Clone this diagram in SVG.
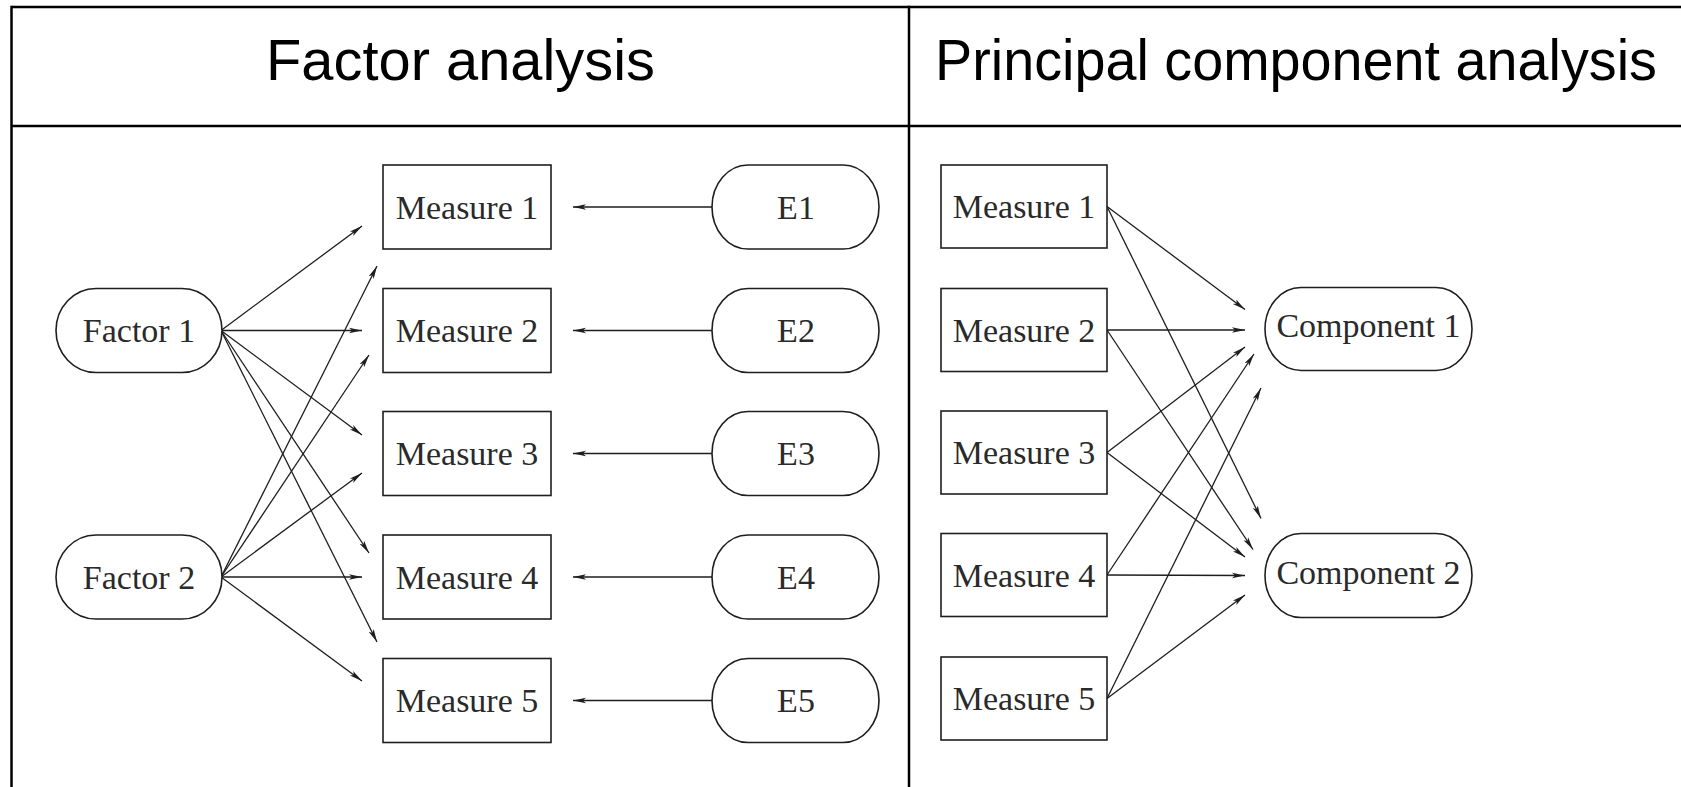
<svg xmlns="http://www.w3.org/2000/svg" width="1681" height="787" viewBox="0 0 1681 787">
<style>
.grid{stroke:#000;stroke-width:2.5;fill:none}
.hdr{font-family:"Liberation Sans",Arial,sans-serif;font-size:58px;fill:#000}
.node{fill:#fff;stroke:#1e1e1e;stroke-width:1.6}
.lbl{font-family:"Liberation Serif","DejaVu Serif",serif;font-size:34px;fill:#2a2a2a;text-anchor:middle}
.edge{stroke:#1e1e1e;stroke-width:1.3;fill:none;marker-end:url(#ah)}
</style>
<defs>
<marker id="ah" viewBox="0 0 13 8" refX="13" refY="4" markerWidth="13" markerHeight="8" markerUnits="userSpaceOnUse" orient="auto">
<path d="M0,1.2 L13,4 L0,6.8 L3,4 Z" fill="#1e1e1e"/>
</marker>
</defs>
<rect width="1681" height="787" fill="#fff"/>
<g id="table">
<line class="grid" x1="11.5" y1="7" x2="1681" y2="7"/>
<line class="grid" x1="11.5" y1="126" x2="1681" y2="126"/>
<line class="grid" x1="11.5" y1="5.75" x2="11.5" y2="787"/>
<line class="grid" x1="909" y1="5.75" x2="909" y2="787"/>
<text class="hdr" x="266" y="80" textLength="389" lengthAdjust="spacingAndGlyphs">Factor analysis</text>
<text class="hdr" x="935" y="80" textLength="722" lengthAdjust="spacingAndGlyphs">Principal component analysis</text>
</g>
<g id="connectors">
<line class="edge" x1="712" y1="207" x2="573" y2="207"/>
<line class="edge" x1="712" y1="330.5" x2="573" y2="330.5"/>
<line class="edge" x1="712" y1="453.5" x2="573" y2="453.5"/>
<line class="edge" x1="712" y1="577" x2="573" y2="577"/>
<line class="edge" x1="712" y1="700.5" x2="573" y2="700.5"/>
<line class="edge" x1="221" y1="330.5" x2="362" y2="226"/>
<line class="edge" x1="221" y1="330.5" x2="362" y2="330.5"/>
<line class="edge" x1="221" y1="330.5" x2="362" y2="435"/>
<line class="edge" x1="221" y1="330.5" x2="369" y2="553"/>
<line class="edge" x1="221" y1="330.5" x2="377" y2="642"/>
<line class="edge" x1="221" y1="577" x2="377" y2="266"/>
<line class="edge" x1="221" y1="577" x2="369" y2="355"/>
<line class="edge" x1="221" y1="577" x2="362" y2="473"/>
<line class="edge" x1="221" y1="577" x2="362" y2="577"/>
<line class="edge" x1="221" y1="577" x2="362" y2="681"/>
<line class="edge" x1="1107" y1="206.5" x2="1245" y2="309.5"/>
<line class="edge" x1="1107" y1="206.5" x2="1261" y2="518.5"/>
<line class="edge" x1="1107" y1="330" x2="1245" y2="330"/>
<line class="edge" x1="1107" y1="330" x2="1253" y2="549.5"/>
<line class="edge" x1="1107" y1="452.5" x2="1245" y2="347"/>
<line class="edge" x1="1107" y1="452.5" x2="1245" y2="557"/>
<line class="edge" x1="1107" y1="575" x2="1254" y2="354"/>
<line class="edge" x1="1107" y1="575" x2="1245" y2="575.5"/>
<line class="edge" x1="1107" y1="698.5" x2="1261" y2="388"/>
<line class="edge" x1="1107" y1="698.5" x2="1245" y2="595"/>
</g>
<g id="fa-factor1"><rect class="node" x="56" y="288.5" width="166" height="84" rx="40" ry="42"/><text class="lbl" x="139" y="342">Factor 1</text></g>
<g id="fa-factor2"><rect class="node" x="56" y="535" width="166" height="84" rx="40" ry="42"/><text class="lbl" x="139" y="588.5">Factor 2</text></g>
<g id="fa-measure1"><rect class="node" x="383" y="165" width="168" height="84"/><text class="lbl" x="467" y="218.5">Measure 1</text></g>
<g id="fa-measure2"><rect class="node" x="383" y="288.5" width="168" height="84"/><text class="lbl" x="467" y="342">Measure 2</text></g>
<g id="fa-measure3"><rect class="node" x="383" y="411.5" width="168" height="84"/><text class="lbl" x="467" y="465">Measure 3</text></g>
<g id="fa-measure4"><rect class="node" x="383" y="535" width="168" height="84"/><text class="lbl" x="467" y="588.5">Measure 4</text></g>
<g id="fa-measure5"><rect class="node" x="383" y="658.5" width="168" height="84"/><text class="lbl" x="467" y="712">Measure 5</text></g>
<g id="fa-e1"><rect class="node" x="712" y="165" width="167" height="84" rx="36" ry="42"/><text class="lbl" x="796" y="218.5">E1</text></g>
<g id="fa-e2"><rect class="node" x="712" y="288.5" width="167" height="84" rx="36" ry="42"/><text class="lbl" x="796" y="342">E2</text></g>
<g id="fa-e3"><rect class="node" x="712" y="411.5" width="167" height="84" rx="36" ry="42"/><text class="lbl" x="796" y="465">E3</text></g>
<g id="fa-e4"><rect class="node" x="712" y="535" width="167" height="84" rx="36" ry="42"/><text class="lbl" x="796" y="588.5">E4</text></g>
<g id="fa-e5"><rect class="node" x="712" y="658.5" width="167" height="84" rx="36" ry="42"/><text class="lbl" x="796" y="712">E5</text></g>
<g id="pca-measure1"><rect class="node" x="941" y="165" width="166" height="83"/><text class="lbl" x="1024" y="218">Measure 1</text></g>
<g id="pca-measure2"><rect class="node" x="941" y="288.5" width="166" height="83"/><text class="lbl" x="1024" y="341.5">Measure 2</text></g>
<g id="pca-measure3"><rect class="node" x="941" y="411" width="166" height="83"/><text class="lbl" x="1024" y="464">Measure 3</text></g>
<g id="pca-measure4"><rect class="node" x="941" y="533.5" width="166" height="83"/><text class="lbl" x="1024" y="586.5">Measure 4</text></g>
<g id="pca-measure5"><rect class="node" x="941" y="657" width="166" height="83"/><text class="lbl" x="1024" y="710">Measure 5</text></g>
<g id="pca-component1"><rect class="node" x="1265" y="287.5" width="207" height="83" rx="36" ry="41.5"/><text class="lbl" x="1368.5" y="337">Component 1</text></g>
<g id="pca-component2"><rect class="node" x="1265" y="533.5" width="207" height="84" rx="36" ry="42"/><text class="lbl" x="1368.5" y="584">Component 2</text></g>
</svg>
